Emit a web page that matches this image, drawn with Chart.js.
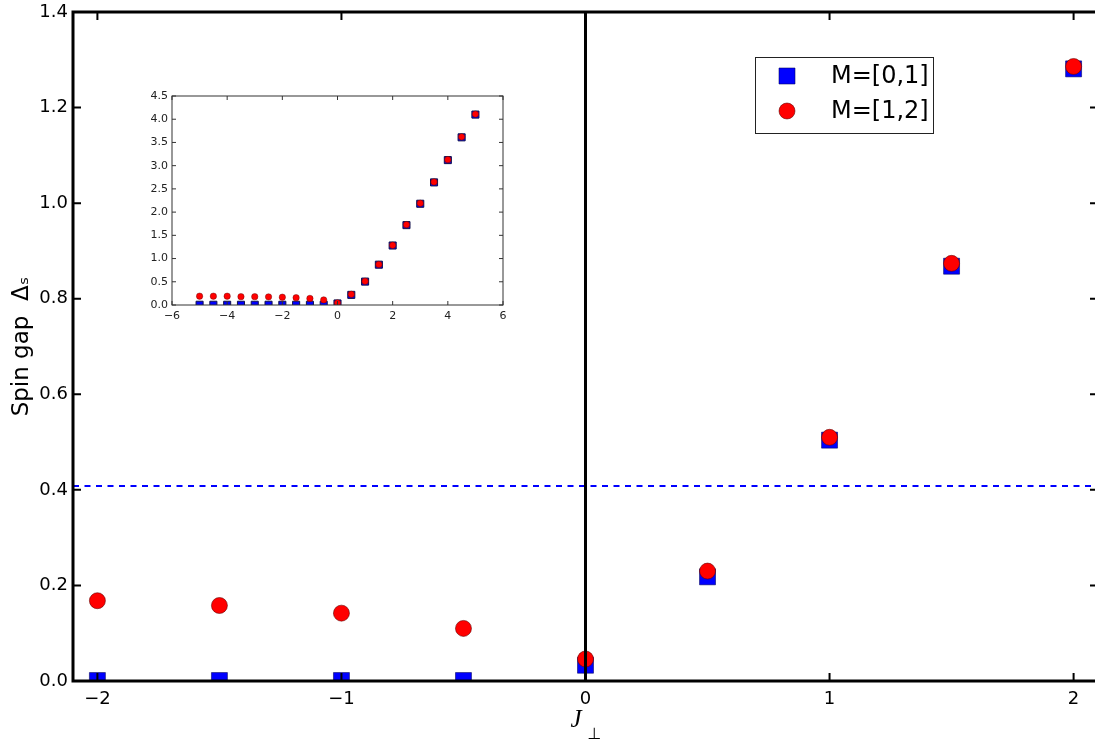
<!DOCTYPE html>
<html>
<head>
<meta charset="utf-8">
<script src="https://cdn.jsdelivr.net/npm/chart.js@4/dist/chart.umd.min.js"></script>
<style>
  html, body { margin: 0; padding: 0; background: #fff; overflow: hidden; }
  #main { position: absolute; left: 0; top: 0; width: 1110px; height: 740px; }
  #inset { position: absolute; left: 130px; top: 85px; width: 383px; height: 240px; }
</style>
</head>
<body>
<div id="main"><canvas id="gapChart"></canvas></div>
<div id="inset"><canvas id="insetChart"></canvas></div>
<script>
// main panel data
const jPerp = [-2, -1.5, -1, -0.5, 0, 0.5, 1, 1.5, 2];
const gapM01 = [0.001, 0.001, 0.001, 0.001, 0.033, 0.218, 0.504, 0.868, 1.281];
const gapM12 = [0.168, 0.158, 0.142, 0.110, 0.046, 0.230, 0.510, 0.874, 1.286];
const refLevel = 0.408;
const xTicks = [-2, -1, 0, 1, 2];
const yTicks = [0.0, 0.2, 0.4, 0.6, 0.8, 1.0, 1.2, 1.4];

// inset data
const insetJ = [-5, -4.5, -4, -3.5, -3, -2.5, -2, -1.5, -1, -0.5, 0, 0.5, 1, 1.5, 2, 2.5, 3, 3.5, 4, 4.5, 5];
const insetM01 = [0.005, 0.005, 0.005, 0.005, 0.005, 0.005, 0.005, 0.005, 0.005, 0.005, 0.033, 0.218, 0.504, 0.868, 1.281, 1.72, 2.18, 2.64, 3.12, 3.61, 4.10];
const insetM12 = [0.19, 0.19, 0.19, 0.18, 0.18, 0.175, 0.168, 0.158, 0.142, 0.110, 0.046, 0.230, 0.510, 0.874, 1.286, 1.73, 2.19, 2.65, 3.13, 3.62, 4.11];
const insetXTicks = [-6, -4, -2, 0, 2, 4, 6];
const insetYTicks = [0, 0.5, 1, 1.5, 2, 2.5, 3, 3.5, 4, 4.5];

const pts = (xs, ys) => xs.map((x, i) => ({x: x, y: ys[i]}));
const minus = v => String(v).replace('-', '\u2212');

// inward ticks on all four sides + frame, matplotlib style
const frameTicks = {
  id: 'frameTicks',
  afterDatasetsDraw(chart, args, opts) {
    const {ctx, chartArea: a, scales: {x, y}} = chart;
    const L = opts.len;
    ctx.save();
    ctx.strokeStyle = opts.color;
    ctx.lineWidth = opts.tickWidth;
    ctx.beginPath();
    x.ticks.forEach(t => {
      const px = x.getPixelForValue(t.value);
      ctx.moveTo(px, a.bottom); ctx.lineTo(px, a.bottom - L);
      ctx.moveTo(px, a.top); ctx.lineTo(px, a.top + L);
    });
    y.ticks.forEach(t => {
      const py = y.getPixelForValue(t.value);
      ctx.moveTo(a.left, py); ctx.lineTo(a.left + L, py);
      ctx.moveTo(a.right, py); ctx.lineTo(a.right - L, py);
    });
    ctx.stroke();
    ctx.lineWidth = opts.frameWidth;
    ctx.strokeRect(a.left, a.top, a.right - a.left, a.bottom - a.top);
    ctx.restore();
  }
};

// legend box inside the axes (upper right)
const boxLegend = {
  id: 'boxLegend',
  afterDraw(chart, args, opts) {
    const {ctx, chartArea: a} = chart;
    const bx = a.right - opts.right - opts.w, by = a.top + opts.top;
    ctx.save();
    ctx.fillStyle = '#fff';
    ctx.strokeStyle = '#222';
    ctx.lineWidth = 1;
    ctx.fillRect(bx, by, opts.w, opts.h);
    ctx.strokeRect(bx + 0.5, by + 0.5, opts.w, opts.h);
    ctx.font = '24px "DejaVu Sans"';
    ctx.textBaseline = 'middle';
    opts.items.forEach((idx, i) => {
      const ds = chart.data.datasets[idx];
      const cy = by + 19 + i * 35;
      const cx = bx + 32;
      ctx.fillStyle = ds.backgroundColor;
      ctx.strokeStyle = ds.borderColor;
      ctx.lineWidth = 0.7;
      ctx.beginPath();
      if (ds.pointStyle === 'rect') ctx.rect(cx - 8, cy - 8, 16, 16);
      else ctx.arc(cx, cy, 8, 0, Math.PI * 2);
      ctx.fill(); ctx.stroke();
      ctx.fillStyle = '#000';
      ctx.fillText(ds.label, bx + 76, cy + 1);
    });
    ctx.restore();
  }
};

// x axis title J with a subscript perp sign
const xTitle = {
  id: 'xTitle',
  afterDraw(chart) {
    const {ctx, chartArea: a} = chart;
    const cx = (a.left + a.right) / 2;
    ctx.save();
    ctx.fillStyle = '#000';
    ctx.textBaseline = 'alphabetic';
    ctx.textAlign = 'left';
    ctx.font = 'italic 25px "Liberation Serif"';
    ctx.fillText('J', cx - 15, a.bottom + 46);
    ctx.font = '16px "DejaVu Sans"';
    ctx.fillText('\u22A5', cx + 2, a.bottom + 58);
    ctx.restore();
  }
};

new Chart(document.getElementById('gapChart'), {
  type: 'scatter',
  data: {
    datasets: [
      {
        label: 'axis0', type: 'line',
        data: [{x: 0, y: 0}, {x: 0, y: 1.4}],
        borderColor: '#000', borderWidth: 3, pointRadius: 0, showLine: true
      },
      {
        label: 'ref', type: 'line',
        data: [{x: -2.1, y: refLevel}, {x: 2.1, y: refLevel}],
        borderColor: '#0000ff', borderWidth: 2, borderDash: [6, 5.5], pointRadius: 0, showLine: true
      },
      {
        label: 'M=[1,2]',
        data: pts(jPerp, gapM12),
        pointStyle: 'circle', pointRadius: 8,
        backgroundColor: '#ff0000', borderColor: 'rgba(90,0,0,0.8)', borderWidth: 0.7,
        clip: 0
      },
      {
        label: 'M=[0,1]',
        data: pts(jPerp, gapM01),
        pointStyle: 'rect', pointRadius: 11.3,
        backgroundColor: '#0000ff', borderColor: 'rgba(0,0,90,0.8)', borderWidth: 0.7,
        clip: 0
      }
    ]
  },
  options: {
    responsive: true,
    maintainAspectRatio: false,
    animation: false,
    layout: { padding: { top: 12, right: 11, left: 0, bottom: 0 } },
    plugins: {
      legend: { display: false },
      tooltip: { enabled: false },
      frameTicks: { len: 8, tickWidth: 2, frameWidth: 3, color: '#000' },
      boxLegend: { items: [3, 2], right: 165, top: 45, w: 178, h: 76 }
    },
    scales: {
      x: {
        type: 'linear', min: -2.1, max: 2.1,
        grid: { display: false, drawTicks: false },
        border: { display: false },
        afterBuildTicks: s => { s.ticks = xTicks.map(v => ({value: v})); },
        afterFit: s => { s.height = 59; s.paddingLeft = 0; s.paddingRight = 0; },
        ticks: {
          padding: 8, color: '#000',
          font: { family: 'DejaVu Sans', size: 18 },
          callback: v => minus(v)
        }
      },
      y: {
        type: 'linear', min: 0, max: 1.4,
        grid: { display: false, drawTicks: false },
        border: { display: false },
        afterBuildTicks: s => { s.ticks = yTicks.map(v => ({value: v})); },
        afterFit: s => { s.width = 73; s.paddingTop = 0; s.paddingBottom = 0; },
        ticks: {
          padding: 5, color: '#000',
          font: { family: 'DejaVu Sans', size: 18 },
          callback: v => v.toFixed(1)
        },
        title: {
          display: true, text: 'Spin gap  \u0394\u209B', color: '#000',
          font: { family: 'DejaVu Sans', size: 23 },
          padding: { top: 8, bottom: 0 }
        }
      }
    }
  },
  plugins: [frameTicks, boxLegend, xTitle]
});

new Chart(document.getElementById('insetChart'), {
  type: 'scatter',
  data: {
    datasets: [
      {
        label: 'M=[1,2]',
        data: pts(insetJ, insetM12),
        pointStyle: 'circle', pointRadius: 3.2,
        backgroundColor: '#ff0000', borderColor: 'rgba(90,0,0,0.8)', borderWidth: 0.5,
        clip: 0
      },
      {
        label: 'M=[0,1]',
        data: pts(insetJ, insetM01),
        pointStyle: 'rect', pointRadius: 5,
        backgroundColor: '#0000ff', borderColor: '#10104a', borderWidth: 1,
        clip: 0
      }
    ]
  },
  options: {
    responsive: true,
    maintainAspectRatio: false,
    animation: false,
    layout: { padding: { top: 11, right: 10, left: 0, bottom: 0 } },
    plugins: {
      legend: { display: false },
      tooltip: { enabled: false },
      frameTicks: { len: 4, tickWidth: 1, frameWidth: 1, color: '#333' }
    },
    scales: {
      x: {
        type: 'linear', min: -6, max: 6,
        grid: { display: false, drawTicks: false },
        border: { display: false },
        afterBuildTicks: s => { s.ticks = insetXTicks.map(v => ({value: v})); },
        afterFit: s => { s.height = 20; s.paddingLeft = 0; s.paddingRight = 0; },
        ticks: {
          padding: 5, color: '#222',
          font: { family: 'DejaVu Sans', size: 11 },
          maxRotation: 0,
          callback: v => minus(v)
        }
      },
      y: {
        type: 'linear', min: 0, max: 4.5,
        grid: { display: false, drawTicks: false },
        border: { display: false },
        afterBuildTicks: s => { s.ticks = insetYTicks.map(v => ({value: v})); },
        afterFit: s => { s.width = 42; s.paddingTop = 0; s.paddingBottom = 0; },
        ticks: {
          padding: 4, color: '#222',
          font: { family: 'DejaVu Sans', size: 11 },
          callback: v => v.toFixed(1)
        }
      }
    }
  },
  plugins: [frameTicks]
});
</script>
</body>
</html>
